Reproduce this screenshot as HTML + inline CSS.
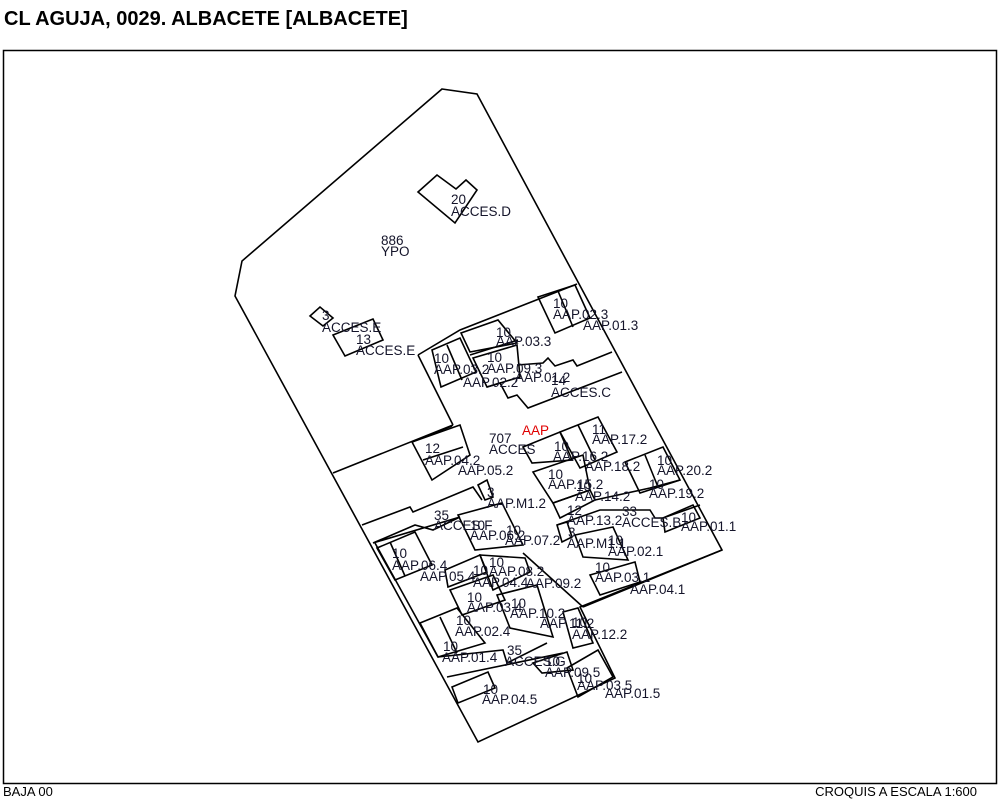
<!DOCTYPE html>
<html><head><meta charset="utf-8"><style>
html,body{margin:0;padding:0;background:#fff;width:1000px;height:800px;overflow:hidden}
svg{display:block}
text{font-family:"Liberation Sans",Arial,sans-serif;font-size:13.5px;fill:#14142a}
.s{fill:none;stroke:#000;stroke-width:1.6}
</style></head><body>
<svg width="1000" height="800" viewBox="0 0 1000 800">
<text x="4" y="25" style="font-size:20px;font-weight:bold;fill:#000">CL AGUJA, 0029. ALBACETE [ALBACETE]</text>
<rect x="3.5" y="50.5" width="993" height="733" fill="none" stroke="#000" stroke-width="1.5"/>
<text x="3" y="796" style="font-size:13px;fill:#000">BAJA 00</text>
<text x="977" y="796" text-anchor="end" style="font-size:13px;fill:#000">CROQUIS A ESCALA 1:600</text>
<g class="s">
<polygon points="442,89 477,94 722,550 580,607 615,678 478,742 235,296 242,261"/>
<polygon points="418,192 437,175 456,189 466,180 477,190 455,223"/>
<polygon points="310,316 320,307 333,318 323,326"/>
<polygon points="333,335 373,319 383,340 345,356"/>
<polyline points="418,355 460,330 577,284"/>
<polyline points="418,355 453,425"/>
<polyline points="333,473 453,425"/>
<polyline points="412,442 452,426"/>
<polygon points="538,297 575,285 590,318 555,333"/>
<line x1="558" y1="291" x2="573" y2="327"/>
<polygon points="461,333 498,320 517,343 470,352"/>
<line x1="470" y1="355" x2="518" y2="340"/>
<polygon points="432,350 460,338 476,372 441,387"/>
<line x1="447" y1="345" x2="462" y2="380"/>
<polygon points="473,358 517,345 520,377 487,387"/>
<polyline points="517,365 543,363 548,358 555,366 573,360 577,366 612,352"/>
<polyline points="487,387 500,383 508,398 517,395 528,408 622,372"/>
<polygon points="412,442 460,425 470,455 432,480"/>
<line x1="423" y1="460" x2="463" y2="447"/>
<polygon points="478,485 487,480 493,497 485,500"/>
<polyline points="362,525 410,507 413,512 473,487 482,500"/>
<polygon points="523,447 560,432 572,460 532,463"/>
<polygon points="560,432 598,417 617,452 580,468"/>
<line x1="578" y1="425" x2="595" y2="460"/>
<polygon points="533,472 583,455 590,490 553,503"/>
<polygon points="553,503 590,490 595,500 560,518"/>
<polygon points="625,462 663,447 680,480 640,493"/>
<line x1="645" y1="455" x2="658" y2="487"/>
<polyline points="595,500 650,488 680,480"/>
<polyline points="557,525 600,510 650,510 655,518 663,518 700,505"/>
<polygon points="663,518 693,505 700,518 665,532"/>
<polygon points="557,525 567,522 572,537 562,542"/>
<polygon points="575,535 613,527 628,560 583,557"/>
<polygon points="590,575 635,562 640,582 600,595"/>
<polyline points="583,607 722,550"/>
<polygon points="373,543 415,525 433,530 460,517"/>
<polyline points="375,543 438,657"/>
<polygon points="377,548 415,532 432,565 395,580"/>
<line x1="390" y1="542" x2="405" y2="576"/>
<polygon points="458,515 502,503 523,545 475,550"/>
<polygon points="445,570 480,555 487,572 448,587"/>
<polygon points="480,555 525,558 530,572 493,590"/>
<polygon points="450,590 493,575 505,600 462,615"/>
<polygon points="497,595 537,585 553,637 510,628"/>
<polygon points="420,623 457,608 485,643 438,657"/>
<line x1="440" y1="617" x2="457" y2="653"/>
<polygon points="563,612 578,608 593,643 573,648"/>
<polyline points="438,657 503,650 507,663 547,643"/>
<polygon points="533,663 567,652 573,670 542,673"/>
<polygon points="567,668 598,650 613,677 578,697"/>
<line x1="447" y1="677" x2="563" y2="653"/>
<polygon points="452,687 488,672 495,688 458,703"/>
<line x1="523" y1="553" x2="583" y2="607"/>
</g>
<g>
<text x="451" y="204">20</text><text x="451" y="216">ACCES.D</text>
<text x="381" y="245">886</text><text x="381" y="256">YPO</text>
<text x="322" y="320">3</text><text x="322" y="332">ACCES.E</text>
<text x="356" y="344">13</text><text x="356" y="355">ACCES.E</text>
<text x="553" y="308">10</text><text x="553" y="319">AAP.02.3</text><text x="583" y="330">AAP.01.3</text>
<text x="496" y="337">10</text><text x="496" y="346">AAP.03.3</text>
<text x="434" y="363">10</text><text x="434" y="374">AAP.03.2</text><text x="463" y="387">AAP.02.2</text>
<text x="487" y="362">10</text><text x="487" y="373">AAP.09.3</text><text x="515" y="382">AAP.01.2</text>
<text x="551" y="385">14</text><text x="551" y="397">ACCES.C</text>
<text x="522" y="435" style="fill:#e00000">AAP</text>
<text x="489" y="443">707</text><text x="489" y="454">ACCES</text>
<text x="425" y="453">12</text><text x="425" y="465">AAP.04.2</text><text x="458" y="475">AAP.05.2</text>
<text x="592" y="434">11</text><text x="592" y="444">AAP.17.2</text>
<text x="554" y="451">10</text><text x="553" y="461">AAP.16.2</text><text x="585" y="471">AAP.18.2</text>
<text x="548" y="479">10</text><text x="548" y="489">AAP.15.2</text>
<text x="576" y="491">10</text><text x="575" y="501">AAP.14.2</text>
<text x="657" y="465">10</text><text x="657" y="475">AAP.20.2</text>
<text x="649" y="489">10</text><text x="649" y="498">AAP.19.2</text>
<text x="487" y="497">3</text><text x="487" y="508">AAP.M1.2</text>
<text x="567" y="515">12</text><text x="567" y="525">AAP.13.2</text>
<text x="622" y="516">33</text><text x="622" y="527">ACCES.B</text>
<text x="681" y="522">10</text><text x="681" y="531">AAP.01.1</text>
<text x="434" y="520">35</text><text x="434" y="530">ACCES.F</text><text x="470" y="530">10</text>
<text x="470" y="540">AAP.06.2</text><text x="506" y="535">10</text><text x="505" y="545">AAP.07.2</text>
<text x="568" y="537">3</text><text x="567" y="548">AAP.M1.1</text>
<text x="608" y="545">10</text><text x="608" y="556">AAP.02.1</text>
<text x="392" y="558">10</text><text x="392" y="570">AAP.06.4</text><text x="420" y="581">AAP.05.4</text>
<text x="489" y="567">10</text><text x="489" y="576">AAP.08.2</text>
<text x="473" y="575">10</text><text x="473" y="587">AAP.04.4</text><text x="526" y="588">AAP.09.2</text>
<text x="595" y="572">10</text><text x="595" y="582">AAP.03.1</text><text x="630" y="594">AAP.04.1</text>
<text x="467" y="602">10</text><text x="467" y="612">AAP.03.4</text>
<text x="511" y="608">10</text><text x="510" y="618">AAP.10.2</text><text x="540" y="628">AAP.11.2</text>
<text x="456" y="625">10</text><text x="455" y="636">AAP.02.4</text>
<text x="572" y="627">10</text><text x="572" y="639">AAP.12.2</text>
<text x="443" y="651">10</text><text x="442" y="662">AAP.01.4</text>
<text x="507" y="655">35</text><text x="505" y="666">ACCES.G</text>
<text x="545" y="666">10</text><text x="545" y="677">AAP.09.5</text>
<text x="577" y="683">10</text><text x="577" y="690">AAP.03.5</text><text x="605" y="698">AAP.01.5</text>
<text x="483" y="694">10</text><text x="482" y="704">AAP.04.5</text>
</g>
</svg>
</body></html>
